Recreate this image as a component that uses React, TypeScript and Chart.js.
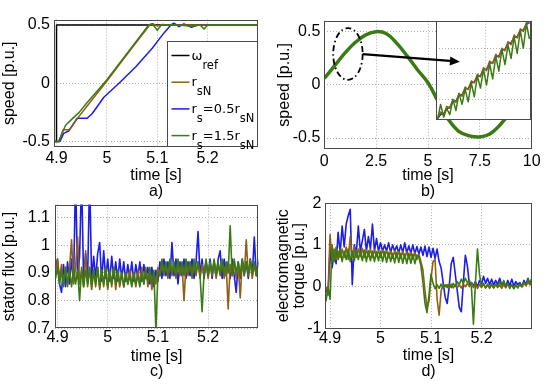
import React, { useEffect, useRef } from 'react';
import { Chart, registerables } from 'chart.js';

Chart.register(...registerables);

const FONT = "'Liberation Sans', Arial, Helvetica, sans-serif";
const LEGEND_FONT = "'DejaVu Sans', sans-serif";
const FONT_SIZE = 16;
const BLUE = '#1c1ceb';
const BROWN = '#8f6014';
const GREEN = '#3a7b14';
const BLACK = '#000000';
const GRID = '#b0b0b0';
const FRAME = '#4a4a4a';

// ---------- a) speed response ----------
const aXRange = [4.895, 5.3];
const aYRange = [-0.547, 0.547];
const aXTicks = [4.9, 5, 5.1, 5.2];
const aYTicks = [-0.5, 0, 0.5];
const refT = [4.895, 4.9, 4.9, 5.3];
const refW = [-0.5, -0.5, 0.5, 0.5];
const nomT = [4.895, 4.905, 4.913, 4.926, 4.94, 4.96, 4.98, 5.0, 5.03, 5.06, 5.085, 5.092, 5.1, 5.11, 5.125, 5.3];
const nomW = [-0.5, -0.5, -0.4, -0.4, -0.31, -0.2, -0.09, 0.02, 0.19, 0.36, 0.5, 0.51, 0.49, 0.505, 0.5, 0.5];
const halfT = [4.895, 4.907, 4.914, 4.924, 4.941, 4.961, 4.971, 4.994, 5.024, 5.057, 5.09, 5.113, 5.127, 5.133, 5.143, 5.153, 5.168, 5.18, 5.2, 5.3];
const halfW = [-0.5, -0.5, -0.43, -0.41, -0.3, -0.3, -0.26, -0.12, 0.0, 0.14, 0.3, 0.43, 0.5, 0.515, 0.485, 0.51, 0.48, 0.5, 0.5, 0.5];
const oneHalfT = [4.895, 4.904, 4.912, 4.918, 4.93, 4.945, 4.96, 4.98, 5.0, 5.03, 5.06, 5.083, 5.09, 5.1, 5.108, 5.14, 5.17, 5.185, 5.193, 5.2, 5.3];
const oneHalfW = [-0.5, -0.5, -0.42, -0.36, -0.31, -0.25, -0.17, -0.07, 0.03, 0.2, 0.37, 0.5, 0.51, 0.455, 0.5, 0.5, 0.49, 0.5, 0.465, 0.5, 0.5];

// ---------- b) sinusoidal speed ----------
const bXRange = [0, 10];
const bYRange = [-0.603, 0.603];
const bXTicks = [0, 2.5, 5, 7.5, 10];
const bYTicks = [-0.5, 0, 0.5];
const sineT = [0, 0.5, 1, 1.5, 2, 2.5, 3, 3.5, 4, 4.5, 5, 5.5, 6, 6.5, 7, 7.5, 8, 8.5, 9, 9.5, 10];
const sineW = [0.06, 0.18, 0.3, 0.4, 0.47, 0.5, 0.48, 0.39, 0.27, 0.14, 0.02, -0.16, -0.33, -0.44, -0.48, -0.49, -0.46, -0.37, -0.25, -0.11, 0.03];
// zoomed inset
const zoomXRange = [0.46, 1.7];
const zoomYRange = [0.16, 0.354];
const zoomXTicks = [1.1];
const zoomYTicks = [0.2, 0.25, 0.3];
const zoomT = [0.48, 0.52, 0.56, 0.6, 0.64, 0.68, 0.72, 0.76, 0.8, 0.84, 0.88, 0.92, 0.96, 1.0, 1.04, 1.08, 1.12, 1.16, 1.2, 1.24, 1.28, 1.32, 1.36, 1.4, 1.44, 1.48, 1.52, 1.56, 1.6, 1.64, 1.68];
const zoomNom = [0.163, 0.175, 0.17, 0.186, 0.183, 0.199, 0.194, 0.211, 0.206, 0.224, 0.219, 0.236, 0.232, 0.249, 0.244, 0.262, 0.256, 0.275, 0.27, 0.288, 0.282, 0.3, 0.295, 0.313, 0.307, 0.326, 0.32, 0.338, 0.333, 0.35, 0.349];
const zoomHalf = [0.162, 0.17, 0.172, 0.182, 0.184, 0.195, 0.197, 0.207, 0.209, 0.22, 0.221, 0.232, 0.234, 0.245, 0.246, 0.258, 0.259, 0.271, 0.272, 0.283, 0.285, 0.296, 0.298, 0.309, 0.311, 0.321, 0.323, 0.334, 0.336, 0.347, 0.35];
const zoomOneHalf = [0.16, 0.19, 0.165, 0.182, 0.17, 0.2, 0.178, 0.212, 0.19, 0.22, 0.195, 0.232, 0.205, 0.246, 0.222, 0.258, 0.228, 0.27, 0.24, 0.284, 0.255, 0.298, 0.268, 0.306, 0.28, 0.322, 0.29, 0.335, 0.3, 0.348, 0.318];
const ellipseCenter = [1.14, 0.29];
const ellipseRadii = [0.71, 0.244];
const arrowFrom = [1.85, 0.288];
const arrowTo = [6.54, 0.218];

// ---------- c) stator flux, d) torque ----------
const cXRange = [4.895, 5.3];
const cYRange = [0.7, 1.147];
const cYTicks = [0.7, 0.8, 0.9, 1, 1.1];
const dXRange = [4.89, 5.3];
const dYRange = [-1, 2];
const dYTicks = [-1, 0, 1, 2];
const tFast = [
  4.892, 4.896, 4.9, 4.904, 4.908, 4.912, 4.916, 4.92, 4.924, 4.928,
  4.932, 4.936, 4.94, 4.944, 4.948, 4.952, 4.956, 4.96, 4.964, 4.968,
  4.972, 4.976, 4.98, 4.984, 4.988, 4.992, 4.996, 5, 5.004, 5.008,
  5.012, 5.016, 5.02, 5.024, 5.028, 5.032, 5.036, 5.04, 5.044, 5.048,
  5.052, 5.056, 5.06, 5.064, 5.068, 5.072, 5.076, 5.08, 5.084, 5.088,
  5.092, 5.096, 5.1, 5.104, 5.108, 5.112, 5.116, 5.12, 5.124, 5.128,
  5.132, 5.136, 5.14, 5.144, 5.148, 5.152, 5.156, 5.16, 5.164, 5.168,
  5.172, 5.176, 5.18, 5.184, 5.188, 5.192, 5.196, 5.2, 5.204, 5.208,
  5.212, 5.216, 5.22, 5.224, 5.228, 5.232, 5.236, 5.24, 5.244, 5.248,
  5.252, 5.256, 5.26, 5.264, 5.268, 5.272, 5.276, 5.28, 5.284, 5.288,
  5.292, 5.296, 5.3,
];
const fluxHalf = [
  0.95, 0.92, 0.95, 0.86, 0.83, 0.93, 0.85, 0.94, 0.86, 0.95,
  0.87, 1.25, 0.88, 0.96, 1.25, 0.87, 0.97, 0.88, 1.25, 0.87,
  0.96, 0.88, 0.97, 1.01, 0.87, 0.98, 0.88, 0.95, 0.87, 0.96,
  0.88, 0.94, 0.87, 0.95, 0.88, 0.94, 0.87, 0.93, 0.88, 0.94,
  0.87, 0.93, 0.88, 0.94, 0.87, 0.93, 0.88, 0.92, 0.86, 0.92,
  0.85, 0.91, 0.87, 0.94, 0.88, 0.95, 0.89, 0.94, 0.88, 1.01,
  0.89, 0.95, 0.86, 0.94, 0.89, 0.95, 0.88, 0.94, 0.89, 0.95,
  0.88, 0.94, 1.05, 0.89, 0.95, 0.88, 0.94, 0.89, 0.95, 0.88,
  0.94, 0.89, 0.95, 0.98, 0.88, 0.95, 0.89, 0.94, 0.88, 0.95,
  0.89, 0.83, 0.94, 0.88, 0.95, 0.89, 0.94, 0.88, 0.95, 0.89,
  1.03, 0.89, 0.94,
];
const fluxNom = [
  0.94, 0.9, 0.95, 0.88, 0.93, 0.86, 0.92, 0.85, 0.92, 1.02,
  0.86, 0.92, 1.03, 0.86, 0.91, 0.85, 0.98, 0.85, 0.92, 0.84,
  0.91, 0.85, 0.92, 0.84, 0.91, 0.85, 0.92, 0.84, 0.91, 0.85,
  0.92, 0.84, 0.91, 0.85, 0.9, 0.85, 0.9, 0.86, 0.91, 0.86,
  0.9, 0.85, 0.91, 0.86, 0.92, 0.86, 0.92, 0.85, 0.91, 0.84,
  0.9, 0.86, 0.92, 0.89, 0.94, 0.89, 0.93, 0.88, 0.94, 0.89,
  0.93, 0.88, 0.94, 0.89, 0.93, 0.8, 0.93, 0.89, 0.94, 0.88,
  0.93, 0.89, 0.94, 0.88, 0.93, 0.89, 0.94, 0.88, 0.93, 0.89,
  0.94, 0.88, 0.93, 0.89, 0.94, 0.88, 0.93, 0.77, 0.93, 0.89,
  0.94, 0.88, 0.93, 0.81, 0.94, 0.89, 1.02, 0.89, 0.94, 0.88,
  0.93, 0.89, 0.94,
];
const fluxOneHalf = [
  0.93, 0.88, 0.92, 0.86, 0.91, 0.85, 0.92, 0.86, 0.91, 0.85,
  0.92, 0.86, 0.91, 0.8, 0.92, 0.85, 0.91, 0.86, 0.92, 0.85,
  0.91, 0.86, 0.92, 0.85, 0.91, 0.86, 0.92, 0.85, 0.91, 0.86,
  0.92, 0.86, 0.91, 0.86, 0.9, 0.85, 0.9, 0.86, 0.89, 0.85,
  0.9, 0.86, 0.89, 0.85, 0.9, 0.86, 0.91, 0.87, 0.92, 0.86,
  0.91, 0.69, 0.9, 0.89, 0.95, 0.9, 0.94, 0.89, 0.95, 0.9,
  0.94, 0.89, 0.95, 0.9, 0.94, 0.89, 0.95, 0.9, 0.94, 0.89,
  0.95, 0.9, 0.94, 0.89, 0.76, 0.9, 0.95, 0.89, 0.94, 0.9,
  0.95, 0.89, 0.94, 0.9, 0.95, 0.89, 0.94, 0.9, 1.07, 0.89,
  0.95, 0.9, 0.94, 0.89, 0.95, 0.9, 0.94, 0.89, 0.95, 0.9,
  0.94, 0.89, 0.95,
];
const torqueHalf = [
  -0.05, -0.2, 0.9, 0.45, 0.8, 0.55, 1.3, 0.8, 1.45, 0.95,
  1.5, 1.7, 1.85, 0.05, 1.0, 0.8, 1.45, 0.85, 1.1, 1.37,
  0.85, 1.2, 0.9, 1.5, 0.85, 1.15, 0.85, 1.05, 0.85, 1.0,
  0.85, 1.05, 0.82, 1.0, 0.85, 0.98, 0.8, 1.0, 0.82, 1.05,
  0.8, 0.98, 0.8, 1.0, 0.78, 0.96, 0.78, 0.95, 0.75, 0.97,
  0.72, 0.95, 0.7, 0.92, 0.68, 0.9, 0.6, 0.45, 0.1, -0.25,
  -0.4, 0.0, 0.55, 0.7, 0.3, -0.1, -0.5, -0.6, 0.1, 0.75,
  0.5, 0.05, 0.1, 0.02, 0.12, 0.0, 0.15, 0.05, 0.25, 0.08,
  0.2, 0.05, 0.18, 0.04, 0.15, 0.05, 0.2, 0.04, 0.12, 0.0,
  0.15, 0.03, 0.18, 0.02, 0.12, 0.05, 0.1, 0.0, 0.15, 0.05,
  0.2, 0.05, 0.15,
];
const torqueNom = [
  0.0, -0.15, 1.25, 0.6, 0.9, 0.65, 0.85, 0.7, 0.9, 0.7,
  0.95, 0.65, 1.2, 0.7, 0.95, 0.7, 0.9, 0.72, 0.92, 0.7,
  0.88, 0.72, 0.9, 0.7, 0.88, 0.72, 0.86, 0.7, 0.88, 0.72,
  0.86, 0.7, 0.85, 0.68, 0.86, 0.7, 0.84, 0.68, 0.85, 0.68,
  0.84, 0.67, 0.82, 0.66, 0.82, 0.65, 0.78, 0.6, 0.4, -0.1,
  -0.5, -0.35, 0.2, 0.6, 0.65, -0.3, -0.68, -0.1, 0.05, 0.0,
  0.05, -0.02, 0.06, -0.03, 0.05, -0.02, 0.04, -0.03, 0.06, 0.0,
  0.08, 0.0, 0.1, -0.02, 0.08, -0.04, 0.05, -0.02, 0.06, -0.03,
  0.05, -0.02, 0.07, -0.03, 0.05, -0.02, 0.04, -0.04, 0.05, -0.03,
  0.06, -0.02, 0.04, -0.04, 0.05, -0.02, 0.06, 0.0, 0.08, 0.02,
  0.1, 0.05, 0.12,
];
const torqueOneHalf = [
  -0.35, 0.0, -0.3, 1.0, 0.6, 0.95, 0.65, 0.9, 0.6, 0.85,
  0.65, 0.9, 0.6, 0.85, 0.62, 0.88, 0.65, 0.85, 0.62, 0.88,
  0.6, 0.86, 0.62, 0.85, 0.6, 0.84, 0.62, 0.85, 0.6, 0.84,
  0.58, 0.82, 0.6, 0.8, 0.57, 0.82, 0.58, 0.8, 0.56, 0.78,
  0.55, 0.8, 0.56, 0.78, 0.55, 0.76, 0.7, 0.5, 0.1, -0.4,
  -0.62, -0.2, 0.3, 0.08, -0.05, 0.05, -0.04, 0.06, -0.03, 0.05,
  -0.02, 0.06, -0.02, 0.08, 0.0, 0.12, 0.05, 0.18, 0.08, 0.2,
  0.1, 0.15, 0.0, -0.9, 0.1, 0.9, 0.3, 0.0, 0.08, -0.03,
  0.06, -0.04, 0.05, -0.03, 0.06, 0.0, 0.12, 0.02, 0.15, 0.0,
  0.08, -0.04, 0.05, -0.05, 0.04, -0.03, 0.06, 0.0, 0.1, 0.05,
  0.18, 0.08, 0.22,
];

const legendRows: { color: string; parts: [string, boolean][] }[] = [
  { color: BLACK, parts: [['ω', false], ['ref', true]] },
  { color: BROWN, parts: [['r', false], ['sN', true]] },
  { color: BLUE, parts: [['r', false], ['s', true], ['=0.5r', false], ['sN', true]] },
  { color: GREEN, parts: [['r', false], ['s', true], ['=1.5r', false], ['sN', true]] },
];

type ScaleCfg = {
  range: number[];
  ticks: number[];
  size: number;
  horizontal: boolean;
  title?: string | string[];
  titleLH?: number;
  titlePad?: any;
  tickPad?: number;
  showTicks?: boolean;
};

function makeScale(c: ScaleCfg) {
  return {
    type: 'linear',
    position: c.horizontal ? 'bottom' : 'left',
    min: c.range[0],
    max: c.range[1],
    afterBuildTicks: (ax: any) => {
      ax.ticks = c.ticks.map((v) => ({ value: v }));
    },
    afterFit: (ax: any) => {
      if (c.horizontal) ax.height = c.size;
      else ax.width = c.size;
    },
    grid: { color: GRID, lineWidth: 1, drawTicks: false },
    border: { display: false, dash: [1, 2] },
    ticks: {
      display: c.showTicks !== false,
      color: BLACK,
      padding: c.tickPad ?? 3,
      font: { family: FONT, size: FONT_SIZE },
      callback: (v: any) => String(v),
      autoSkip: false,
      maxRotation: 0,
      minRotation: 0,
    },
    title: c.title
      ? {
          display: true,
          text: c.title,
          color: BLACK,
          font: { family: FONT, size: FONT_SIZE, lineHeight: `${c.titleLH ?? 16}px` },
          padding: c.titlePad ?? 0,
        }
      : { display: false },
  };
}

function series(xs: number[], ys: number[], color: string, width: number, order: number, tension = 0) {
  return {
    data: xs.map((x, i) => ({ x, y: ys[i] })),
    borderColor: color,
    backgroundColor: color,
    borderWidth: width,
    pointRadius: 0,
    pointHoverRadius: 0,
    tension,
    order,
    fill: false,
    borderJoinStyle: 'round',
  };
}

const framePlugin = {
  id: 'frame',
  afterDatasetsDraw(chart: any) {
    const { ctx, chartArea: a } = chart;
    ctx.save();
    ctx.strokeStyle = FRAME;
    ctx.lineWidth = 1;
    ctx.setLineDash([]);
    const l = Math.round(a.left) + 0.5;
    const t = Math.round(a.top) + 0.5;
    const r = Math.round(a.right) - 0.5;
    const b = Math.round(a.bottom) - 0.5;
    ctx.strokeRect(l, t, r - l, b - t);
    ctx.restore();
  },
};

const legendPlugin = {
  id: 'mlegend',
  afterDraw(chart: any) {
    const { ctx, chartArea: a } = chart;
    const w = 91;
    const h = 106;
    const x0 = Math.round(a.right - w) + 0.5;
    const y0 = Math.round(a.bottom - h) + 0.5;
    ctx.save();
    ctx.fillStyle = '#ffffff';
    ctx.fillRect(x0, y0, w - 1, h - 1);
    ctx.strokeStyle = FRAME;
    ctx.lineWidth = 1;
    ctx.strokeRect(x0, y0, w - 1, h - 1);
    legendRows.forEach((row, i) => {
      const cy = y0 + 14 + i * 26.7;
      ctx.strokeStyle = row.color;
      ctx.lineWidth = 1.5;
      ctx.beginPath();
      ctx.moveTo(x0 + 4, cy);
      ctx.lineTo(x0 + 22, cy);
      ctx.stroke();
      let x = x0 + 24;
      ctx.fillStyle = BLACK;
      ctx.textAlign = 'left';
      ctx.textBaseline = 'alphabetic';
      row.parts.forEach(([txt, sub]) => {
        ctx.font = sub ? `11.5px ${LEGEND_FONT}` : `13px ${LEGEND_FONT}`;
        ctx.fillText(txt, x, cy + (sub ? 13 : 4));
        x += ctx.measureText(txt).width;
      });
    });
    ctx.restore();
  },
};

const insetBgPlugin = {
  id: 'insetBg',
  beforeDraw(chart: any) {
    const { ctx, chartArea: a } = chart;
    ctx.save();
    ctx.fillStyle = '#ffffff';
    ctx.fillRect(a.left, a.top, a.right - a.left, a.bottom - a.top);
    ctx.restore();
  },
};

function annotationPlugin(host: any) {
  return {
    id: 'annot',
    afterDraw(chart: any) {
      const ctx = chart.ctx;
      const sx = host.scales.x;
      const sy = host.scales.y;
      const cx = sx.getPixelForValue(ellipseCenter[0]);
      const cy = sy.getPixelForValue(ellipseCenter[1]);
      const rx = sx.getPixelForValue(ellipseCenter[0] + ellipseRadii[0]) - cx;
      const ry = cy - sy.getPixelForValue(ellipseCenter[1] + ellipseRadii[1]);
      ctx.save();
      ctx.strokeStyle = BLACK;
      ctx.lineWidth = 1.8;
      ctx.setLineDash([6, 3, 1.5, 3]);
      ctx.beginPath();
      ctx.ellipse(cx, cy, rx, ry, 0, 0, Math.PI * 2);
      ctx.stroke();
      ctx.setLineDash([]);
      const x1 = sx.getPixelForValue(arrowFrom[0]);
      const y1 = sy.getPixelForValue(arrowFrom[1]);
      const x2 = sx.getPixelForValue(arrowTo[0]);
      const y2 = sy.getPixelForValue(arrowTo[1]);
      const ang = Math.atan2(y2 - y1, x2 - x1);
      const hl = 10;
      const hw = 4.5;
      const bx = x2 - hl * Math.cos(ang);
      const by = y2 - hl * Math.sin(ang);
      ctx.lineWidth = 2.2;
      ctx.beginPath();
      ctx.moveTo(x1, y1);
      ctx.lineTo(bx, by);
      ctx.stroke();
      ctx.fillStyle = BLACK;
      ctx.beginPath();
      ctx.moveTo(x2, y2);
      ctx.lineTo(bx + hw * Math.sin(ang), by - hw * Math.cos(ang));
      ctx.lineTo(bx - hw * Math.sin(ang), by + hw * Math.cos(ang));
      ctx.closePath();
      ctx.fill();
      ctx.restore();
    },
  };
}

function baseOptions(padding: any, x: any, y: any) {
  return {
    responsive: false,
    animation: false,
    devicePixelRatio: 1,
    events: [],
    layout: { padding, autoPadding: false },
    plugins: { legend: { display: false }, tooltip: { enabled: false } },
    scales: { x, y },
  };
}

export default function App() {
  const refA = useRef<HTMLCanvasElement>(null);
  const refB = useRef<HTMLCanvasElement>(null);
  const refBi = useRef<HTMLCanvasElement>(null);
  const refC = useRef<HTMLCanvasElement>(null);
  const refD = useRef<HTMLCanvasElement>(null);

  useEffect(() => {
    const charts: any[] = [];

    charts.push(
      new Chart(refA.current as HTMLCanvasElement, {
        type: 'line',
        data: {
          datasets: [
            series(refT, refW, BLACK, 1.5, 4),
            series(halfT, halfW, BLUE, 1.5, 3),
            series(nomT, nomW, BROWN, 1.5, 2),
            series(oneHalfT, oneHalfW, GREEN, 1.5, 1),
          ] as any,
        },
        options: baseOptions(
          { left: 0, top: 19.5, right: 17, bottom: 0 },
          makeScale({ range: aXRange, ticks: aXTicks, size: 53, horizontal: true, title: ['time [s]', 'a)'], titlePad: { top: 0, bottom: 0.3 }, tickPad: 1.5 }),
          makeScale({ range: aYRange, ticks: aYTicks, size: 54, horizontal: false, title: 'speed [p.u.]', titlePad: { top: 2, bottom: 0 }, tickPad: 4 })
        ) as any,
        plugins: [framePlugin, legendPlugin] as any,
      })
    );

    const chartB = new Chart(refB.current as HTMLCanvasElement, {
      type: 'line',
      data: {
        datasets: [series(sineT, sineW, GREEN, 3.5, 1, 0.4)] as any,
      },
      options: baseOptions(
        { left: 0, top: 20.7, right: 18.3, bottom: 0 },
        makeScale({ range: bXRange, ticks: bXTicks, size: 51, horizontal: true, title: ['time [s]', 'b)'], titlePad: { top: 0, bottom: 0.3 }, tickPad: 2.5 }),
        makeScale({ range: bYRange, ticks: bYTicks, size: 49.3, horizontal: false, title: 'speed [p.u.]', titlePad: { top: 2, bottom: 0 }, tickPad: 4 })
      ) as any,
      plugins: [framePlugin] as any,
    });
    charts.push(chartB);

    charts.push(
      new Chart(refBi.current as HTMLCanvasElement, {
        type: 'line',
        data: {
          datasets: [
            series(zoomT, zoomHalf, BLUE, 1.5, 3),
            series(zoomT, zoomNom, BROWN, 1.5, 2),
            series(zoomT, zoomOneHalf, GREEN, 1.5, 1),
          ] as any,
        },
        options: baseOptions(
          { left: 161, top: 20.7, right: 19, bottom: 80.3 },
          makeScale({ range: zoomXRange, ticks: zoomXTicks, size: 0, horizontal: true, showTicks: false }),
          makeScale({ range: zoomYRange, ticks: zoomYTicks, size: 0, horizontal: false, showTicks: false })
        ) as any,
        plugins: [insetBgPlugin, framePlugin, annotationPlugin(chartB)] as any,
      })
    );

    charts.push(
      new Chart(refC.current as HTMLCanvasElement, {
        type: 'line',
        data: {
          datasets: [
            series(tFast, fluxHalf, BLUE, 1.6, 3),
            series(tFast, fluxNom, BROWN, 1.6, 2),
            series(tFast, fluxOneHalf, GREEN, 1.6, 1),
          ] as any,
        },
        options: baseOptions(
          { left: 0, top: 11.7, right: 16.7, bottom: 0 },
          makeScale({ range: cXRange, ticks: aXTicks, size: 56.7, horizontal: true, title: ['time [s]', 'c)'], titleLH: 15, titlePad: { top: 0, bottom: 5.8 }, tickPad: 0 }),
          makeScale({ range: cYRange, ticks: cYTicks, size: 55, horizontal: false, title: 'stator flux [p.u.]', titlePad: { top: 2, bottom: 0 }, tickPad: 5 })
        ) as any,
        plugins: [framePlugin] as any,
      })
    );

    charts.push(
      new Chart(refD.current as HTMLCanvasElement, {
        type: 'line',
        data: {
          datasets: [
            series(tFast, torqueHalf, BLUE, 1.6, 3),
            series(tFast, torqueNom, BROWN, 1.6, 2),
            series(tFast, torqueOneHalf, GREEN, 1.6, 1),
          ] as any,
        },
        options: baseOptions(
          { left: 0, top: 11.5, right: 18, bottom: 0 },
          makeScale({ range: dXRange, ticks: aXTicks, size: 56.5, horizontal: true, title: ['time [s]', 'd)'], titleLH: 16, titlePad: { top: 0, bottom: 5.3 }, tickPad: 0 }),
          makeScale({ range: dYRange, ticks: dYTicks, size: 50, horizontal: false, title: ['electromagnetic', 'torque [p.u.]'], titleLH: 15.5, titlePad: { top: 1, bottom: 0 }, tickPad: 3.5 })
        ) as any,
        plugins: [framePlugin] as any,
      })
    );

    return () => {
      charts.forEach((c) => c.destroy());
    };
  }, []);

  const cv = (left: number, top: number, w: number, h: number): React.CSSProperties => ({
    position: 'absolute',
    left,
    top,
    width: w,
    height: h,
  });

  return (
    <div style={{ position: 'absolute', left: 0, top: 0, width: 550, height: 385, background: '#ffffff', overflow: 'hidden' }}>
      <canvas ref={refA} width={275} height={200} style={cv(0, 0, 275, 200)} />
      <canvas ref={refC} width={275} height={195} style={cv(0, 190, 275, 195)} />
      <canvas ref={refB} width={275} height={200} style={cv(275, 0, 275, 200)} />
      <canvas ref={refBi} width={275} height={200} style={cv(275, 0, 275, 200)} />
      <canvas ref={refD} width={275} height={195} style={cv(275, 190, 275, 195)} />
    </div>
  );
}
